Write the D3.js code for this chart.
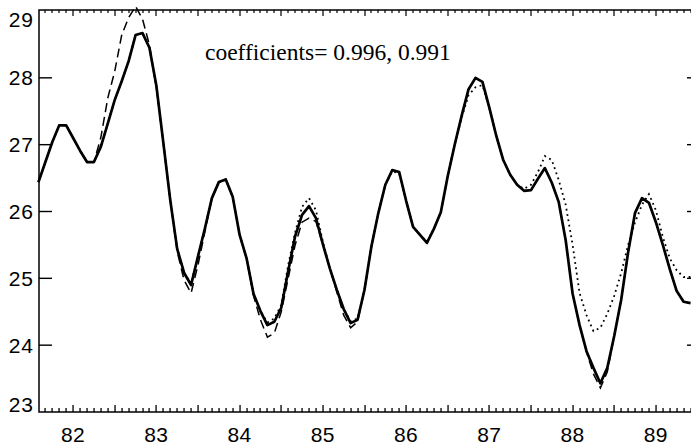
<!DOCTYPE html>
<html>
<head>
<meta charset="utf-8">
<script src="https://cdn.jsdelivr.net/npm/d3@7"></script>
<style>
  html, body { margin: 0; padding: 0; background: #fff; }
  svg { display: block; }
</style>
</head>
<body>
<svg id="chart" width="691" height="445"></svg>
<script>
// Monthly time axis, decimal years (first month 81 + 7/12)
const startYear = 81 + 7 / 12;
const months = d3.range(95).map(k => startYear + k / 12);

// Observed series (solid)
const observed = [
  26.44, 26.74, 27.04, 27.29, 27.29, 27.10, 26.91, 26.74, 26.74, 26.97,
  27.32, 27.67, 27.95, 28.25, 28.64, 28.67, 28.45, 27.88, 27.03, 26.17,
  25.44, 25.08, 24.90, 25.33, 25.75, 26.20, 26.44, 26.48, 26.22, 25.65,
  25.30, 24.77, 24.51, 24.30, 24.35, 24.56, 25.11, 25.63, 25.95, 26.08,
  25.90, 25.51, 25.15, 24.83, 24.54, 24.33, 24.38, 24.83, 25.48, 25.98,
  26.40, 26.62, 26.59, 26.16, 25.77, 25.65, 25.53, 25.74, 25.99, 26.53,
  27.00, 27.43, 27.83, 28.00, 27.94, 27.55, 27.13, 26.77, 26.55, 26.40,
  26.31, 26.32, 26.49, 26.65, 26.43, 26.14, 25.57, 24.77, 24.30, 23.91,
  23.66, 23.43, 23.66, 24.14, 24.68, 25.39, 25.98, 26.20, 26.13, 25.84,
  25.50, 25.14, 24.81, 24.65, 24.63
];

// First model series (dashed)
const modelA = [
  26.44, 26.74, 27.04, 27.29, 27.29, 27.10, 26.91, 26.74, 26.74, 27.11,
  27.70, 28.10, 28.64, 28.90, 29.07, 28.88, 28.49, 27.85, 27.03, 26.17,
  25.40, 24.97, 24.78, 25.20, 25.70, 26.20, 26.44, 26.48, 26.22, 25.65,
  25.30, 24.74, 24.38, 24.12, 24.18, 24.50, 25.00, 25.50, 25.84, 25.90,
  25.85, 25.50, 25.15, 24.80, 24.45, 24.26, 24.35, 24.83, 25.48, 25.98,
  26.40, 26.62, 26.59, 26.16, 25.77, 25.65, 25.53, 25.74, 25.99, 26.53,
  27.00, 27.43, 27.83, 28.00, 27.94, 27.55, 27.13, 26.77, 26.55, 26.40,
  26.31, 26.32, 26.49, 26.65, 26.43, 26.14, 25.57, 24.77, 24.30, 23.90,
  23.57, 23.36, 23.60, 24.14, 24.68, 25.39, 25.98, 26.20, 26.13, 25.84,
  25.50, 25.14, 24.81, 24.65, 24.63
];

// Second model series (dotted)
const modelB = [
  26.44, 26.74, 27.04, 27.29, 27.29, 27.10, 26.91, 26.74, 26.74, 26.97,
  27.32, 27.67, 27.95, 28.25, 28.64, 28.67, 28.45, 27.88, 27.03, 26.17,
  25.44, 25.08, 24.92, 25.33, 25.75, 26.20, 26.44, 26.48, 26.22, 25.65,
  25.30, 24.77, 24.51, 24.34, 24.40, 24.60, 25.20, 25.69, 26.07, 26.20,
  26.02, 25.55, 25.15, 24.83, 24.54, 24.36, 24.40, 24.83, 25.48, 25.98,
  26.40, 26.60, 26.57, 26.16, 25.77, 25.65, 25.55, 25.74, 25.99, 26.53,
  27.00, 27.40, 27.74, 27.86, 27.89, 27.55, 27.13, 26.77, 26.55, 26.40,
  26.34, 26.40, 26.59, 26.83, 26.77, 26.47, 26.10, 25.50, 24.78, 24.45,
  24.21, 24.26, 24.47, 24.74, 25.08, 25.50, 25.84, 26.10, 26.26, 26.02,
  25.62, 25.30, 25.12, 25.02, 25.02
];

// Axis ticks
const yearTicks = [82, 83, 84, 85, 86, 87, 88, 89];
const monthTicks = d3.range(979, 1075).map(k => k / 12).filter(v => v > 81.6 && v < 89.55);
const valueTicks = [23, 24, 25, 26, 27, 28, 29];
const annotation = "coefficients= 0.996, 0.991";

const svg = d3.select("#chart");
const plotLeft = 39, plotRight = 700, plotTop = 10, plotBottom = 412;

const x = d3.scaleLinear().domain([81.59, 89.53]).range([plotLeft, plotRight]);
const y = d3.scaleLinear().domain([23, 29]).range([plotBottom, plotTop + 1]);

// Plot frame
svg.append("rect")
  .attr("x", plotLeft).attr("y", plotTop)
  .attr("width", plotRight - plotLeft).attr("height", plotBottom - plotTop)
  .attr("fill", "none").attr("stroke", "#000").attr("stroke-width", 1.5);

// Month ticks along top and bottom, longer at half years
const isHalf = v => Math.abs(v * 2 - Math.round(v * 2)) < 1e-6;
const xTickLen = v => (isHalf(v) ? 7 : 4);
const xTickG = svg.append("g").attr("fill", "#000");
xTickG.selectAll("rect.bt").data(monthTicks).join("rect")
  .attr("class", "bt")
  .attr("x", v => Math.round(x(v)) - 0.6).attr("width", 1.3)
  .attr("y", v => plotBottom - xTickLen(v)).attr("height", v => xTickLen(v));
xTickG.selectAll("rect.tt").data(monthTicks).join("rect")
  .attr("class", "tt")
  .attr("x", v => Math.round(x(v)) - 0.6).attr("width", 1.2)
  .attr("y", plotTop).attr("height", v => xTickLen(v) - 1);

// Value ticks on left and right edges
const yTickG = svg.append("g").attr("fill", "#000");
yTickG.selectAll("rect.lt").data(valueTicks.slice(1, -1)).join("rect")
  .attr("class", "lt")
  .attr("x", plotLeft).attr("width", 13)
  .attr("y", v => y(v) - 0.7).attr("height", 1.4);
yTickG.selectAll("rect.rt").data(valueTicks.slice(1, -1)).join("rect")
  .attr("class", "rt")
  .attr("x", plotRight - 13).attr("width", 13)
  .attr("y", v => y(v) - 0.7).attr("height", 1.4);

// Tick labels
const labelFont = "'Liberation Sans', Arial, sans-serif";
svg.append("g").selectAll("text").data(yearTicks).join("text")
  .attr("x", d => x(d)).attr("y", 442)
  .attr("text-anchor", "middle")
  .attr("font-family", labelFont).attr("font-size", 21).attr("letter-spacing", 0.5)
  .attr("fill", "#000")
  .text(d3.format("d"));

svg.append("g").selectAll("text").data(valueTicks).join("text")
  .attr("x", plotLeft - 5)
  .attr("y", d => Math.min(Math.max(y(d), 19), 404))
  .attr("dy", "0.36em")
  .attr("text-anchor", "end")
  .attr("font-family", labelFont).attr("font-size", 21).attr("letter-spacing", 1)
  .attr("fill", "#000")
  .text(d3.format("d"));

// Series lines
const line = d3.line().x((d, i) => x(months[i])).y(d => y(d)).curve(d3.curveLinear);

svg.append("path").datum(modelB)
  .attr("d", line).attr("fill", "none").attr("stroke", "#000")
  .attr("stroke-width", 1.8).attr("stroke-dasharray", "1.8,3.6");

svg.append("path").datum(modelA)
  .attr("d", line).attr("fill", "none").attr("stroke", "#000")
  .attr("stroke-width", 1.5).attr("stroke-dasharray", "9,5");

svg.append("path").datum(observed)
  .attr("d", line).attr("fill", "none").attr("stroke", "#000")
  .attr("stroke-width", 2.7).attr("stroke-linejoin", "round");

// Annotation
svg.append("text")
  .attr("x", 205).attr("y", 60)
  .attr("font-family", "'Liberation Serif', 'Times New Roman', serif")
  .attr("font-size", 23.5).attr("fill", "#000")
  .text(annotation);
</script>
</body>
</html>
